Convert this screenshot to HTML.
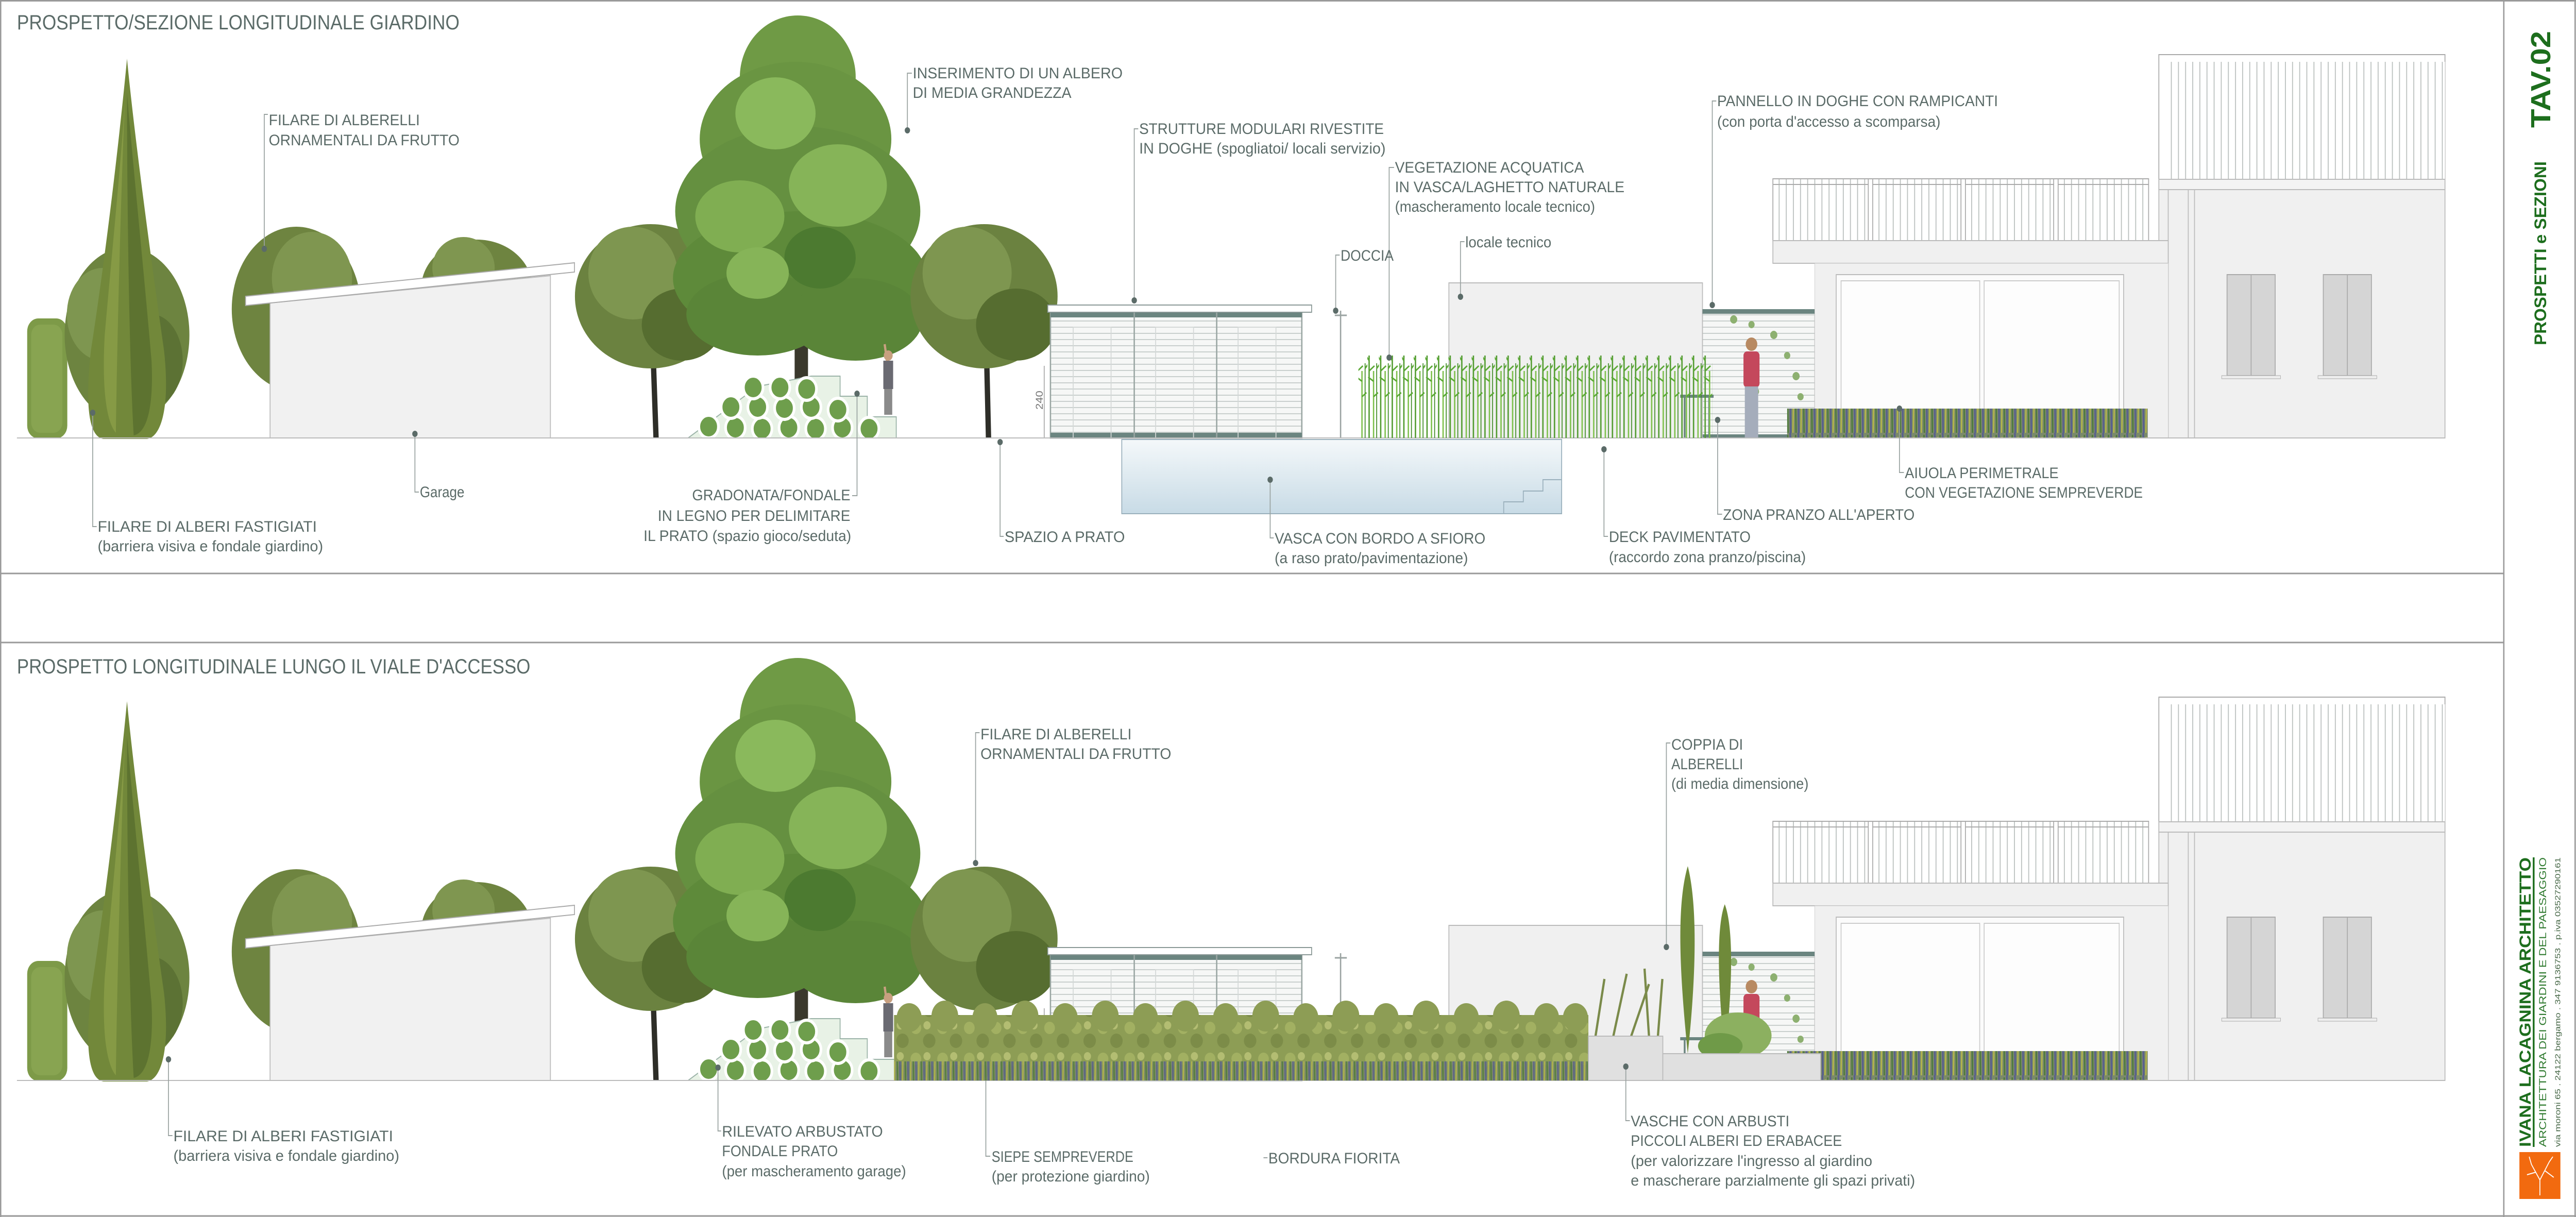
<!DOCTYPE html>
<html><head><meta charset="utf-8">
<style>
html,body{margin:0;padding:0;background:#fff;width:100%;height:100%;overflow:hidden;}
svg{display:block;position:absolute;left:0;top:0;width:100vw;height:100vh;}
.t{font-family:"Liberation Sans Narrow","Liberation Sans",sans-serif;font-size:30px;fill:#5b6b68;}
.h{font-family:"Liberation Sans Narrow","Liberation Sans",sans-serif;font-size:40px;fill:#5b6b68;}
.ld{stroke:#9aa3a1;stroke-width:2;fill:none;}
.dt{fill:#5b6b68;}
.g{font-family:"Liberation Sans Narrow","Liberation Sans",sans-serif;font-weight:bold;fill:#1d6e1d;}
</style></head>
<body>
<svg viewBox="0 0 5780 2362" preserveAspectRatio="none" xmlns="http://www.w3.org/2000/svg">
<defs>
  <pattern id="hslat" width="20" height="12" patternUnits="userSpaceOnUse">
    <rect width="20" height="12" fill="#f6f7f6"/><line x1="0" y1="11" x2="20" y2="11" stroke="#c9cfcd" stroke-width="2"/>
  </pattern>
  <pattern id="vslat" width="16" height="20" patternUnits="userSpaceOnUse">
    <rect width="16" height="20" fill="#fff"/><line x1="8" y1="0" x2="8" y2="20" stroke="#b8bebc" stroke-width="2"/>
  </pattern>
  <pattern id="bamboo" width="26" height="170" patternUnits="userSpaceOnUse">
    <line x1="4" y1="10" x2="4" y2="170" stroke="#4f9a2c" stroke-width="3"/>
    <line x1="14" y1="40" x2="14" y2="170" stroke="#7cc04a" stroke-width="3"/>
    <line x1="21" y1="25" x2="21" y2="170" stroke="#3f8a24" stroke-width="2"/>
    <path d="M4,20 l-10,-14 M4,40 l12,-10 M14,60 l-12,-8 M21,35 l10,-12 M14,90 l10,-8" stroke="#5aa834" stroke-width="3"/>
  </pattern>
  <pattern id="grass" width="18" height="60" patternUnits="userSpaceOnUse">
    <rect width="18" height="60" fill="#7b8a6a"/>
    <line x1="3" y1="0" x2="4" y2="60" stroke="#59608e" stroke-width="4"/>
    <line x1="10" y1="8" x2="9" y2="60" stroke="#b7b84a" stroke-width="3"/>
    <line x1="15" y1="4" x2="16" y2="60" stroke="#4c7a3a" stroke-width="3"/>
  </pattern>
  <pattern id="hedge" width="60" height="60" patternUnits="userSpaceOnUse">
    <rect width="60" height="60" fill="#8d9d55"/>
    <circle cx="15" cy="15" r="12" fill="#a2b062"/><circle cx="45" cy="40" r="14" fill="#7c8c48"/><circle cx="40" cy="10" r="8" fill="#b3bd72"/>
  </pattern>
  <linearGradient id="pool" x1="0" y1="0" x2="0" y2="1">
    <stop offset="0" stop-color="#f4f8fa"/><stop offset="1" stop-color="#c8dbe6"/>
  </linearGradient>

  <g id="common">
    <rect x="61" y="618" width="90" height="233" rx="25" fill="#7d9a48"/>
    <rect x="70" y="630" width="70" height="210" rx="20" fill="#8fab58" opacity="0.6"/>
    <ellipse cx="285" cy="650" rx="140" ry="170" fill="#6d8440"/>
    <ellipse cx="230" cy="610" rx="80" ry="90" fill="#7e9650"/>
    <ellipse cx="340" cy="700" rx="70" ry="90" fill="#5c7234"/>
    <path d="M285,114 C300,250 335,480 368,680 C382,790 362,848 330,852 L232,852 C200,848 190,790 204,680 C240,480 270,250 285,114Z" fill="#72883a"/>
    <path d="M285,180 C296,300 320,500 340,700 C345,790 330,840 300,845 C290,700 285,400 285,180Z" fill="#5d7330"/>
    <path d="M280,200 C270,330 250,500 235,650 C228,760 240,820 260,840 C262,700 270,400 280,200Z" fill="#8fa24a" opacity="0.7"/>
    <ellipse cx="665" cy="600" rx="145" ry="160" fill="#6e8440"/>
    <ellipse cx="700" cy="540" rx="90" ry="90" fill="#7f9650"/>
    <ellipse cx="1070" cy="560" rx="125" ry="95" fill="#6e8440"/>
    <ellipse cx="1040" cy="520" rx="70" ry="60" fill="#7f9650"/>
    <polygon points="606,588 1235,535 1235,850 606,850" fill="#f1f1f1" stroke="#bbb" stroke-width="2"/>
    <polygon points="551,575 1289,510 1289,528 551,593" fill="#fff" stroke="#aaa" stroke-width="2"/>
    <path d="M1472,850 L1466,700 L1420,640 M1468,700 L1510,630" stroke="#2e2e28" stroke-width="12" fill="none"/>
    <ellipse cx="1460" cy="575" rx="170" ry="140" fill="#6b8240"/>
    <ellipse cx="1420" cy="530" rx="100" ry="90" fill="#7e9650"/>
    <ellipse cx="1530" cy="630" rx="90" ry="70" fill="#566d30"/>
    <rect x="1783" y="480" width="30" height="370" fill="#3a382c"/>
    <ellipse cx="1790" cy="150" rx="130" ry="120" fill="#6f9a45"/>
    <ellipse cx="1785" cy="270" rx="215" ry="150" fill="#6a9542"/>
    <ellipse cx="1790" cy="410" rx="275" ry="165" fill="#659040"/>
    <ellipse cx="1795" cy="540" rx="285" ry="130" fill="#5e8a3a"/>
    <ellipse cx="1700" cy="610" rx="160" ry="80" fill="#5a8538"/>
    <ellipse cx="1920" cy="620" rx="150" ry="80" fill="#5a8538"/>
    <ellipse cx="1740" cy="220" rx="90" ry="70" fill="#8ab95c"/>
    <ellipse cx="1880" cy="360" rx="110" ry="80" fill="#86b458"/>
    <ellipse cx="1660" cy="420" rx="100" ry="70" fill="#80ae52"/>
    <ellipse cx="1840" cy="500" rx="80" ry="60" fill="#4c7a30"/>
    <ellipse cx="1700" cy="530" rx="70" ry="50" fill="#86b458"/>
    <path d="M2218,850 L2214,700 L2170,640 M2216,700 L2260,630" stroke="#2e2e28" stroke-width="12" fill="none"/>
    <ellipse cx="2208" cy="575" rx="165" ry="140" fill="#6b8240"/>
    <ellipse cx="2170" cy="530" rx="100" ry="90" fill="#7e9650"/>
    <ellipse cx="2280" cy="630" rx="90" ry="70" fill="#566d30"/>
    <polygon points="1544,850 1700,750 1820,730 1885,730 1885,769 1946,769 1946,809 2011,809 2011,850" fill="#e8f2e6" stroke="#9bb3a8" stroke-width="2"/>
    <g fill="#6e9e4c" stroke="#fff" stroke-width="6">
      <circle cx="1590" cy="828" r="22"/><circle cx="1650" cy="830" r="22"/><circle cx="1710" cy="832" r="22"/><circle cx="1770" cy="830" r="22"/><circle cx="1830" cy="832" r="22"/><circle cx="1890" cy="830" r="22"/><circle cx="1950" cy="832" r="22"/>
      <circle cx="1640" cy="790" r="22"/><circle cx="1700" cy="790" r="22"/><circle cx="1760" cy="792" r="22"/><circle cx="1820" cy="790" r="22"/><circle cx="1880" cy="795" r="22"/>
      <circle cx="1690" cy="752" r="22"/><circle cx="1750" cy="752" r="22"/><circle cx="1810" cy="755" r="22"/>
    </g>
    <rect x="1982" y="700" width="22" height="55" fill="#6a6a72"/>
    <rect x="1984" y="755" width="18" height="50" fill="#8a8a8a"/>
    <circle cx="1993" cy="690" r="10" fill="#c8a080"/>
    <line x1="1990" y1="700" x2="1985" y2="668" stroke="#c8a080" stroke-width="5"/>
    <rect x="2357" y="606" width="564" height="244" fill="url(#hslat)" stroke="#9aa6a3" stroke-width="3"/>
    <rect x="2357" y="606" width="564" height="10" fill="#6b8580"/>
    <rect x="2357" y="840" width="564" height="10" fill="#6b8580"/>
    <rect x="2351" y="592" width="592" height="14" fill="#fff" stroke="#8a9896" stroke-width="2"/>
    <line x1="2545" y1="606" x2="2545" y2="850" stroke="#9aa6a3" stroke-width="3"/>
    <line x1="2730" y1="606" x2="2730" y2="850" stroke="#9aa6a3" stroke-width="3"/>
    <g stroke="#d4d8d7" stroke-width="2" fill="none">
      <rect x="2408" y="635" width="85" height="215"/><rect x="2593" y="635" width="85" height="215"/><rect x="2778" y="635" width="85" height="215"/>
    </g>
    <line x1="2343" y1="710" x2="2343" y2="850" stroke="#aaa" stroke-width="2"/>
    <text x="0" y="0" transform="translate(2340,795) rotate(-90)" style="font-family:'Liberation Sans',sans-serif;font-size:22px;fill:#777;">240</text>
    <line x1="3008" y1="603" x2="3008" y2="850" stroke="#9aa3a1" stroke-width="3"/>
    <line x1="2995" y1="612" x2="3022" y2="612" stroke="#9aa3a1" stroke-width="3"/>
    <rect x="3251" y="549" width="569" height="301" fill="#f0f0f0" stroke="#bbb" stroke-width="2"/>
    <rect x="3820" y="605" width="252" height="245" fill="url(#hslat)" stroke="#bbb" stroke-width="2"/>
    <rect x="3820" y="600" width="252" height="9" fill="#6b8580"/>
    <rect x="3820" y="843" width="252" height="7" fill="#6b8580"/>
    <g fill="#8db070"><circle cx="3890" cy="620" r="8"/><circle cx="3930" cy="630" r="7"/><circle cx="3980" cy="650" r="8"/><circle cx="4010" cy="690" r="7"/><circle cx="4030" cy="730" r="8"/><circle cx="4040" cy="770" r="7"/><circle cx="4020" cy="810" r="8"/><circle cx="3940" cy="760" r="7"/></g>
    <rect x="3770" y="766" width="75" height="6" fill="#6b8580"/>
    <line x1="3780" y1="772" x2="3780" y2="850" stroke="#6b8580" stroke-width="4"/><line x1="3835" y1="772" x2="3835" y2="850" stroke="#6b8580" stroke-width="4"/>
    <circle cx="3930" cy="668" r="13" fill="#b88a62"/>
    <rect x="3912" y="682" width="36" height="70" rx="8" fill="#c4485c"/>
    <rect x="3915" y="750" width="30" height="100" fill="#a5adbb"/>
    <rect x="4844" y="106" width="642" height="262" fill="#fff" stroke="#aaa" stroke-width="2"/>
    <rect x="4866" y="120" width="620" height="228" fill="url(#vslat)"/>
    <rect x="4844" y="348" width="642" height="20" fill="#f3f3f3" stroke="#bbb" stroke-width="2"/>
    <rect x="4844" y="368" width="642" height="482" fill="#f0f0f0" stroke="#bbb" stroke-width="2"/>
    <line x1="4865" y1="368" x2="4865" y2="850" stroke="#bbb" stroke-width="2"/>
    <line x1="4910" y1="368" x2="4910" y2="850" stroke="#bbb" stroke-width="2"/>
    <line x1="4924" y1="368" x2="4924" y2="850" stroke="#bbb" stroke-width="2"/>
    <rect x="4997" y="533" width="108" height="196" fill="#d5d5d5" stroke="#aaa" stroke-width="2"/>
    <line x1="5051" y1="533" x2="5051" y2="729" stroke="#aaa" stroke-width="2"/>
    <rect x="4985" y="729" width="132" height="6" fill="#eee" stroke="#aaa" stroke-width="1"/>
    <rect x="5213" y="533" width="108" height="196" fill="#d5d5d5" stroke="#aaa" stroke-width="2"/>
    <line x1="5267" y1="533" x2="5267" y2="729" stroke="#aaa" stroke-width="2"/>
    <rect x="5201" y="729" width="132" height="6" fill="#eee" stroke="#aaa" stroke-width="1"/>
    <rect x="3978" y="347" width="843" height="120" fill="url(#vslat)" stroke="#aaa" stroke-width="2"/>
    <line x1="3978" y1="358" x2="4821" y2="358" stroke="#aaa" stroke-width="2"/>
    <g fill="#fff" stroke="#aaa" stroke-width="2"><rect x="4192" y="347" width="10" height="130"/><rect x="4400" y="347" width="10" height="130"/><rect x="4608" y="347" width="10" height="130"/></g>
    <rect x="3978" y="467" width="887" height="44" fill="#f0f0f0" stroke="#bbb" stroke-width="2"/>
    <rect x="4072" y="511" width="793" height="339" fill="#f0f0f0" stroke="#ccc" stroke-width="1"/>
    <rect x="4120" y="533" width="645" height="317" fill="#fbfbfb" stroke="#bbb" stroke-width="2"/>
    <rect x="4131" y="545" width="311" height="305" fill="#fdfdfd" stroke="#ccc" stroke-width="2"/>
    <rect x="4452" y="545" width="303" height="305" fill="#fdfdfd" stroke="#ccc" stroke-width="2"/>
    <rect x="4010" y="793" width="809" height="57" fill="url(#grass)"/>
    <line x1="38" y1="850" x2="5486" y2="850" stroke="#bbb" stroke-width="2"/>
  </g>
</defs>

<g stroke="#9a9a9a" stroke-width="3" fill="none">
  <line x1="0" y1="1.5" x2="5780" y2="1.5"/>
  <line x1="0" y1="2360" x2="5780" y2="2360"/>
  <line x1="1.5" y1="0" x2="1.5" y2="2362"/>
  <line x1="5778" y1="0" x2="5778" y2="2362"/>
  <line x1="5618" y1="0" x2="5618" y2="2362"/>
  <line x1="0" y1="1113" x2="5618" y2="1113"/>
  <line x1="0" y1="1247" x2="5618" y2="1247"/>
</g>

<use href="#common"/>
<use href="#common" y="1247"/>

<rect x="2517" y="853" width="987" height="144" fill="url(#pool)" stroke="#9ab0bc" stroke-width="2"/>
<polyline points="3374,997 3374,974 3418,974 3418,953 3462,953 3462,931 3504,931" fill="none" stroke="#9ab0bc" stroke-width="2"/>
<rect x="3048" y="682" width="794" height="168" fill="url(#bamboo)"/>

<rect x="2006" y="1970" width="1558" height="127" fill="url(#hedge)"/>
<g fill="#8d9d55">
  <circle cx="2040" cy="1975" r="28"/><circle cx="2120" cy="1972" r="30"/><circle cx="2210" cy="1975" r="28"/><circle cx="2300" cy="1972" r="30"/><circle cx="2390" cy="1975" r="28"/><circle cx="2480" cy="1972" r="30"/><circle cx="2570" cy="1975" r="28"/><circle cx="2660" cy="1972" r="30"/><circle cx="2750" cy="1975" r="28"/><circle cx="2840" cy="1972" r="30"/><circle cx="2930" cy="1975" r="28"/><circle cx="3020" cy="1972" r="30"/><circle cx="3110" cy="1975" r="28"/><circle cx="3200" cy="1972" r="30"/><circle cx="3290" cy="1975" r="28"/><circle cx="3380" cy="1972" r="30"/><circle cx="3470" cy="1975" r="28"/><circle cx="3535" cy="1975" r="28"/>
</g>
<rect x="2006" y="2060" width="1558" height="37" fill="url(#grass)" opacity="0.85"/>
<path d="M3580,2011 L3600,1900 M3620,2011 L3650,1890 M3660,2011 L3700,1910 M3700,2011 L3690,1880 M3720,2011 L3730,1900" stroke="#7a8a4a" stroke-width="5" fill="none"/>
<rect x="3564" y="2011" width="167" height="86" fill="#e0e0e0" stroke="#bbb" stroke-width="2"/>
<path d="M3787,2045 C3770,1900 3760,1760 3787,1681 C3810,1760 3805,1900 3787,2045Z" fill="#6f8a3a"/>
<path d="M3870,2045 C3855,1920 3850,1800 3870,1755 C3890,1800 3888,1920 3870,2045Z" fill="#6f8a3a"/>
<ellipse cx="3900" cy="2010" rx="75" ry="45" fill="#8cb060"/>
<ellipse cx="3860" cy="2030" rx="50" ry="25" fill="#6f9a48"/>
<rect x="3731" y="2045" width="354" height="52" fill="#e0e0e0" stroke="#bbb" stroke-width="2"/>

<text class="h" x="38" y="57" textLength="993" lengthAdjust="spacingAndGlyphs">PROSPETTO/SEZIONE LONGITUDINALE GIARDINO</text>
<text class="h" x="38" y="1307" textLength="1152" lengthAdjust="spacingAndGlyphs">PROSPETTO LONGITUDINALE LUNGO IL VIALE D'ACCESSO</text>

<g class="ld">
  <polyline points="593,483 593,222 601,222"/>
  <polyline points="208,801 208,1022 217,1022"/>
  <polyline points="931,842 931,955 940,955"/>
  <polyline points="1923,764 1923,962 1912,962"/>
  <polyline points="2036,253 2036,142 2046,142"/>
  <polyline points="2545,583 2545,250 2554,250"/>
  <polyline points="3117,694 3117,325 3128,325"/>
  <polyline points="2997,603 2997,495 3006,495"/>
  <polyline points="3277,576 3277,469 3286,469"/>
  <polyline points="3842,592 3842,196 3851,196"/>
  <polyline points="2244,858 2244,1041 2252,1041"/>
  <polyline points="2850,931 2850,1044 2858,1044"/>
  <polyline points="3599,872 3599,1041 3608,1041"/>
  <polyline points="3854,815 3854,998 3864,998"/>
  <polyline points="4262,793 4262,917 4272,917"/>
</g>
<g class="dt">
  <circle cx="593" cy="483" r="6"/><circle cx="208" cy="801" r="6"/><circle cx="931" cy="842" r="6"/><circle cx="1923" cy="764" r="6"/><circle cx="2036" cy="253" r="6"/><circle cx="2545" cy="583" r="6"/><circle cx="3117" cy="694" r="6"/><circle cx="2997" cy="603" r="6"/><circle cx="3277" cy="576" r="6"/><circle cx="3842" cy="592" r="6"/><circle cx="2244" cy="858" r="6"/><circle cx="2850" cy="931" r="6"/><circle cx="3599" cy="872" r="6"/><circle cx="3854" cy="815" r="6"/><circle cx="4262" cy="793" r="6"/>
</g>
<g class="t">
  <text x="603" y="243" textLength="339" lengthAdjust="spacingAndGlyphs">FILARE DI ALBERELLI</text>
  <text x="603" y="282" textLength="428" lengthAdjust="spacingAndGlyphs">ORNAMENTALI DA FRUTTO</text>
  <text x="219" y="1032" textLength="492" lengthAdjust="spacingAndGlyphs">FILARE DI ALBERI FASTIGIATI</text>
  <text x="219" y="1070" textLength="506" lengthAdjust="spacingAndGlyphs">(barriera visiva e fondale giardino)</text>
  <text x="942" y="965" textLength="100" lengthAdjust="spacingAndGlyphs">Garage</text>
  <text x="1553" y="971" textLength="355" lengthAdjust="spacingAndGlyphs">GRADONATA/FONDALE</text>
  <text x="1476" y="1011" textLength="432" lengthAdjust="spacingAndGlyphs">IN LEGNO PER DELIMITARE</text>
  <text x="1444" y="1050" textLength="466" lengthAdjust="spacingAndGlyphs">IL PRATO (spazio gioco/seduta)</text>
  <text x="2048" y="152" textLength="471" lengthAdjust="spacingAndGlyphs">INSERIMENTO DI UN ALBERO</text>
  <text x="2048" y="190" textLength="356" lengthAdjust="spacingAndGlyphs">DI MEDIA GRANDEZZA</text>
  <text x="2556" y="260" textLength="549" lengthAdjust="spacingAndGlyphs">STRUTTURE MODULARI RIVESTITE</text>
  <text x="2556" y="298" textLength="553" lengthAdjust="spacingAndGlyphs">IN DOGHE (spogliatoi/ locali servizio)</text>
  <text x="3130" y="335" textLength="424" lengthAdjust="spacingAndGlyphs">VEGETAZIONE ACQUATICA</text>
  <text x="3130" y="373" textLength="515" lengthAdjust="spacingAndGlyphs">IN VASCA/LAGHETTO NATURALE</text>
  <text x="3130" y="411" textLength="449" lengthAdjust="spacingAndGlyphs">(mascheramento locale tecnico)</text>
  <text x="3008" y="506" textLength="119" lengthAdjust="spacingAndGlyphs">DOCCIA</text>
  <text x="3288" y="480" textLength="193" lengthAdjust="spacingAndGlyphs">locale tecnico</text>
  <text x="3853" y="206" textLength="630" lengthAdjust="spacingAndGlyphs">PANNELLO IN DOGHE CON RAMPICANTI</text>
  <text x="3853" y="246" textLength="501" lengthAdjust="spacingAndGlyphs">(con porta d'accesso a scomparsa)</text>
  <text x="2254" y="1052" textLength="270" lengthAdjust="spacingAndGlyphs">SPAZIO A PRATO</text>
  <text x="2860" y="1055" textLength="473" lengthAdjust="spacingAndGlyphs">VASCA CON BORDO A SFIORO</text>
  <text x="2860" y="1093" textLength="434" lengthAdjust="spacingAndGlyphs">(a raso prato/pavimentazione)</text>
  <text x="3610" y="1052" textLength="318" lengthAdjust="spacingAndGlyphs">DECK PAVIMENTATO</text>
  <text x="3610" y="1091" textLength="442" lengthAdjust="spacingAndGlyphs">(raccordo zona pranzo/piscina)</text>
  <text x="3866" y="1009" textLength="430" lengthAdjust="spacingAndGlyphs">ZONA PRANZO ALL'APERTO</text>
  <text x="4274" y="928" textLength="345" lengthAdjust="spacingAndGlyphs">AIUOLA PERIMETRALE</text>
  <text x="4274" y="966" textLength="534" lengthAdjust="spacingAndGlyphs">CON VEGETAZIONE SEMPREVERDE</text>
</g>

<g class="ld">
  <polyline points="378,2056 378,2204 387,2204"/>
  <polyline points="1611,2072 1611,2195 1618,2195"/>
  <polyline points="2189,1675 2189,1422 2198,1422"/>
  <polyline points="2212,2097 2212,2244 2222,2244"/>
  <polyline points="2835,2247 2844,2247"/>
  <polyline points="3739,1838 3739,1442 3748,1442"/>
  <polyline points="3648,2070 3648,2175 3657,2175"/>
</g>
<g class="dt">
  <circle cx="378" cy="2056" r="6"/><circle cx="1611" cy="2072" r="6"/><circle cx="2189" cy="1675" r="6"/><circle cx="3739" cy="1838" r="6"/><circle cx="3648" cy="2070" r="6"/>
</g>
<g class="t">
  <text x="389" y="2215" textLength="493" lengthAdjust="spacingAndGlyphs">FILARE DI ALBERI FASTIGIATI</text>
  <text x="389" y="2253" textLength="507" lengthAdjust="spacingAndGlyphs">(barriera visiva e fondale giardino)</text>
  <text x="1620" y="2206" textLength="361" lengthAdjust="spacingAndGlyphs">RILEVATO ARBUSTATO</text>
  <text x="1620" y="2244" textLength="260" lengthAdjust="spacingAndGlyphs">FONDALE PRATO</text>
  <text x="1620" y="2283" textLength="413" lengthAdjust="spacingAndGlyphs">(per mascheramento garage)</text>
  <text x="2200" y="1435" textLength="339" lengthAdjust="spacingAndGlyphs">FILARE DI ALBERELLI</text>
  <text x="2200" y="1473" textLength="428" lengthAdjust="spacingAndGlyphs">ORNAMENTALI DA FRUTTO</text>
  <text x="2225" y="2255" textLength="318" lengthAdjust="spacingAndGlyphs">SIEPE SEMPREVERDE</text>
  <text x="2225" y="2293" textLength="355" lengthAdjust="spacingAndGlyphs">(per protezione giardino)</text>
  <text x="2846" y="2258" textLength="295" lengthAdjust="spacingAndGlyphs">BORDURA FIORITA</text>
  <text x="3750" y="1455" textLength="161" lengthAdjust="spacingAndGlyphs">COPPIA DI</text>
  <text x="3750" y="1493" textLength="161" lengthAdjust="spacingAndGlyphs">ALBERELLI</text>
  <text x="3750" y="1531" textLength="308" lengthAdjust="spacingAndGlyphs">(di media dimensione)</text>
  <text x="3659" y="2186" textLength="356" lengthAdjust="spacingAndGlyphs">VASCHE CON ARBUSTI</text>
  <text x="3659" y="2224" textLength="474" lengthAdjust="spacingAndGlyphs">PICCOLI ALBERI ED ERABACEE</text>
  <text x="3659" y="2263" textLength="542" lengthAdjust="spacingAndGlyphs">(per valorizzare l'ingresso al giardino</text>
  <text x="3659" y="2301" textLength="638" lengthAdjust="spacingAndGlyphs">e mascherare parzialmente gli spazi privati)</text>
</g>

<text class="g" transform="translate(5722,248) rotate(-90)" style="font-size:62px" textLength="188" lengthAdjust="spacingAndGlyphs">TAV.02</text>
<text class="g" transform="translate(5713,670) rotate(-90)" style="font-size:38px" textLength="357" lengthAdjust="spacingAndGlyphs">PROSPETTI e SEZIONI</text>
<text class="g" transform="translate(5678,2226) rotate(-90)" style="font-size:36px" textLength="562" lengthAdjust="spacingAndGlyphs">IVANA LACAGNINA ARCHITETTO</text>
<rect x="5683" y="1664" width="4" height="562" fill="#1d6e1d"/>
<text transform="translate(5713,2226) rotate(-90)" style="font-family:'Liberation Sans Narrow','Liberation Sans',sans-serif;font-size:22px;fill:#2f7a2f" textLength="562" lengthAdjust="spacingAndGlyphs">ARCHITETTURA DEI GIARDINI E DEL PAESAGGIO</text>
<text transform="translate(5745,2226) rotate(-90)" style="font-family:'Liberation Sans Narrow','Liberation Sans',sans-serif;font-size:17px;fill:#4a6a4a" textLength="562" lengthAdjust="spacingAndGlyphs">via moroni 65 . 24122 bergamo . 347 9136753 . p.iva 03527290161</text>
<rect x="5653" y="2236" width="92" height="91" fill="#f26a0f"/>
<g stroke="#fff" stroke-width="2" fill="none">
  <path d="M5699,2320 L5699,2290 M5699,2290 L5680,2260 M5699,2290 L5720,2255 M5690,2275 L5670,2280 M5710,2272 L5730,2285 M5680,2260 L5675,2245 M5720,2255 L5728,2245"/>
</g>
</svg>
</body></html>
